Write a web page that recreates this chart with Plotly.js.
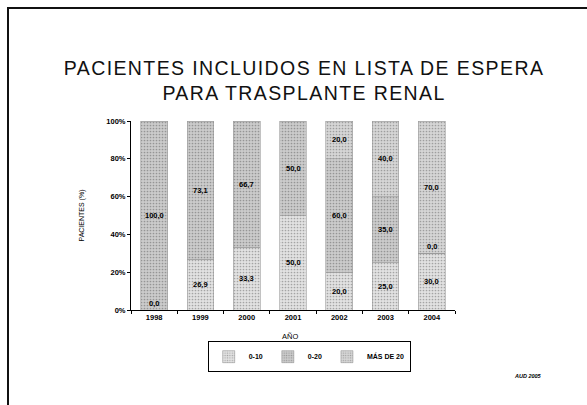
<!DOCTYPE html>
<html>
<head>
<meta charset="utf-8">
<script src="https://cdn.plot.ly/plotly-3.0.1.min.js"></script>
<style>
  body { margin: 0; background: #fff; }
  #marco { position: absolute; left: 7px; top: 7px; width: 580px; height: 398px;
           border-top: 2px solid #111; border-left: 2px solid #111; }
  #grafico { position: absolute; left: 0; top: 0; width: 587px; height: 405px; }
  #err { position: absolute; left: 20px; top: 20px; font: 10px monospace; color: red; }
</style>
</head>
<body>
<div id="marco"></div>
<div id="grafico"></div>
<div id="err"></div>
<script>
window.onerror = function (m, s, l) { document.getElementById('err').textContent += m + ' @' + l + ' | '; };

// años y porcentajes por grupo de edad
var anios = ['1998', '1999', '2000', '2001', '2002', '2003', '2004'];
var grupo0a10 = [0.0, 26.9, 33.3, 50.0, 20.0, 25.0, 30.0];
var grupo0a20 = [100.0, 73.1, 66.7, 50.0, 60.0, 35.0, 0.0];
var grupoMas20 = [null, null, null, null, 20.0, 40.0, 70.0];
var nombres = ['0-10', '0-20', 'MÁS DE 20'];
var tickY = [0, 20, 40, 60, 80, 100];
var tickYTexto = ['0%', '20%', '40%', '60%', '80%', '100%'];

var series = [grupo0a10, grupo0a20, grupoMas20];
var fondos = ['#e2e2e2', '#cbcbcb', '#d6d6d6'];
var puntos = ['#a4a4a4', '#959595', '#9e9e9e'];

var data = series.map(function (vals, i) {
    return {
        x: anios,
        y: vals,
        type: 'bar',
        name: '<b>' + nombres[i] + '</b>',
        marker: {
            color: puntos[i],
            line: {color: '#9a9a9a', width: 0.6},
            pattern: {shape: '.', size: 3, solidity: 0.25, fgcolor: puntos[i],
                      bgcolor: fondos[i], fgopacity: 1}
        }
    };
});

var fuente = 'Liberation Sans, Arial';
var etiquetas = [];
anios.forEach(function (a, j) {
    var base = 0;
    series.forEach(function (vals) {
        var v = vals[j];
        if (v === null) return;
        etiquetas.push({
            x: j, y: base + v / 2, xref: 'x', yref: 'y',
            text: '<b>' + v.toFixed(1).replace('.', ',') + '</b>',
            showarrow: false,
            yshift: v === 0 ? 7 : 0,
            font: {family: fuente, size: 7.5, color: '#000'}
        });
        base += v;
    });
});

etiquetas.push({
    x: 0.49, y: -0.175, xref: 'paper', yref: 'paper',
    text: 'AÑO', showarrow: false,
    font: {family: fuente, size: 7.5, color: '#000'}
});
etiquetas.push({
    x: 1.175, y: -0.375, xref: 'paper', yref: 'paper', xanchor: 'left',
    text: '<b><i>AUD 2005</i></b>', showarrow: false,
    font: {family: fuente, size: 5.5, color: '#000'}
});

var layout = {
    width: 587,
    height: 405,
    margin: {l: 131, r: 132, t: 121, b: 95},
    paper_bgcolor: 'rgba(0,0,0,0)',
    plot_bgcolor: 'rgba(0,0,0,0)',
    barmode: 'stack',
    bargap: 0.42,
    title: {
        text: 'PACIENTES INCLUIDOS EN LISTA DE ESPERA<br>PARA TRASPLANTE RENAL',
        x: 0.518, xanchor: 'center',
        y: 0.815, yanchor: 'middle',
        font: {family: fuente, size: 19.5, color: '#111'}
    },
    xaxis: {
        type: 'category',
        tickvals: anios,
        ticktext: anios.map(function (a) { return '<b>' + a + '</b>'; }),
        showline: true, linecolor: '#000', linewidth: 1,
        ticks: 'outside', ticklen: 3, tickcolor: '#000', tickson: 'boundaries',
        tickfont: {family: fuente, size: 7.5, color: '#000'},
        showgrid: false
    },
    yaxis: {
        range: [0, 100],
        tickvals: tickY,
        ticktext: tickYTexto.map(function (t) { return '<b>' + t + '</b>'; }),
        showline: true, linecolor: '#000', linewidth: 1,
        ticks: 'outside', ticklen: 3, tickcolor: '#000',
        tickfont: {family: fuente, size: 7.5, color: '#000'},
        showgrid: false, zeroline: false,
        title: {text: 'PACIENTES (%)', standoff: 20,
                font: {family: fuente, size: 7, color: '#000'}}
    },
    showlegend: true,
    legend: {
        orientation: 'h',
        traceorder: 'normal',
        x: 0.55, xanchor: 'center',
        y: -0.165, yanchor: 'top',
        bordercolor: '#000', borderwidth: 1,
        font: {family: fuente, size: 7, color: '#000'}
    },
    annotations: etiquetas
};

Plotly.newPlot('grafico', data, layout, {displayModeBar: false, staticPlot: true})
    .then(function (gd) {
        var t = gd.querySelector('.gtitle');
        if (t) t.style.letterSpacing = '1.4px';
    })
    .catch(function (e) { document.getElementById('err').textContent += 'P: ' + e; });
</script>
</body>
</html>
